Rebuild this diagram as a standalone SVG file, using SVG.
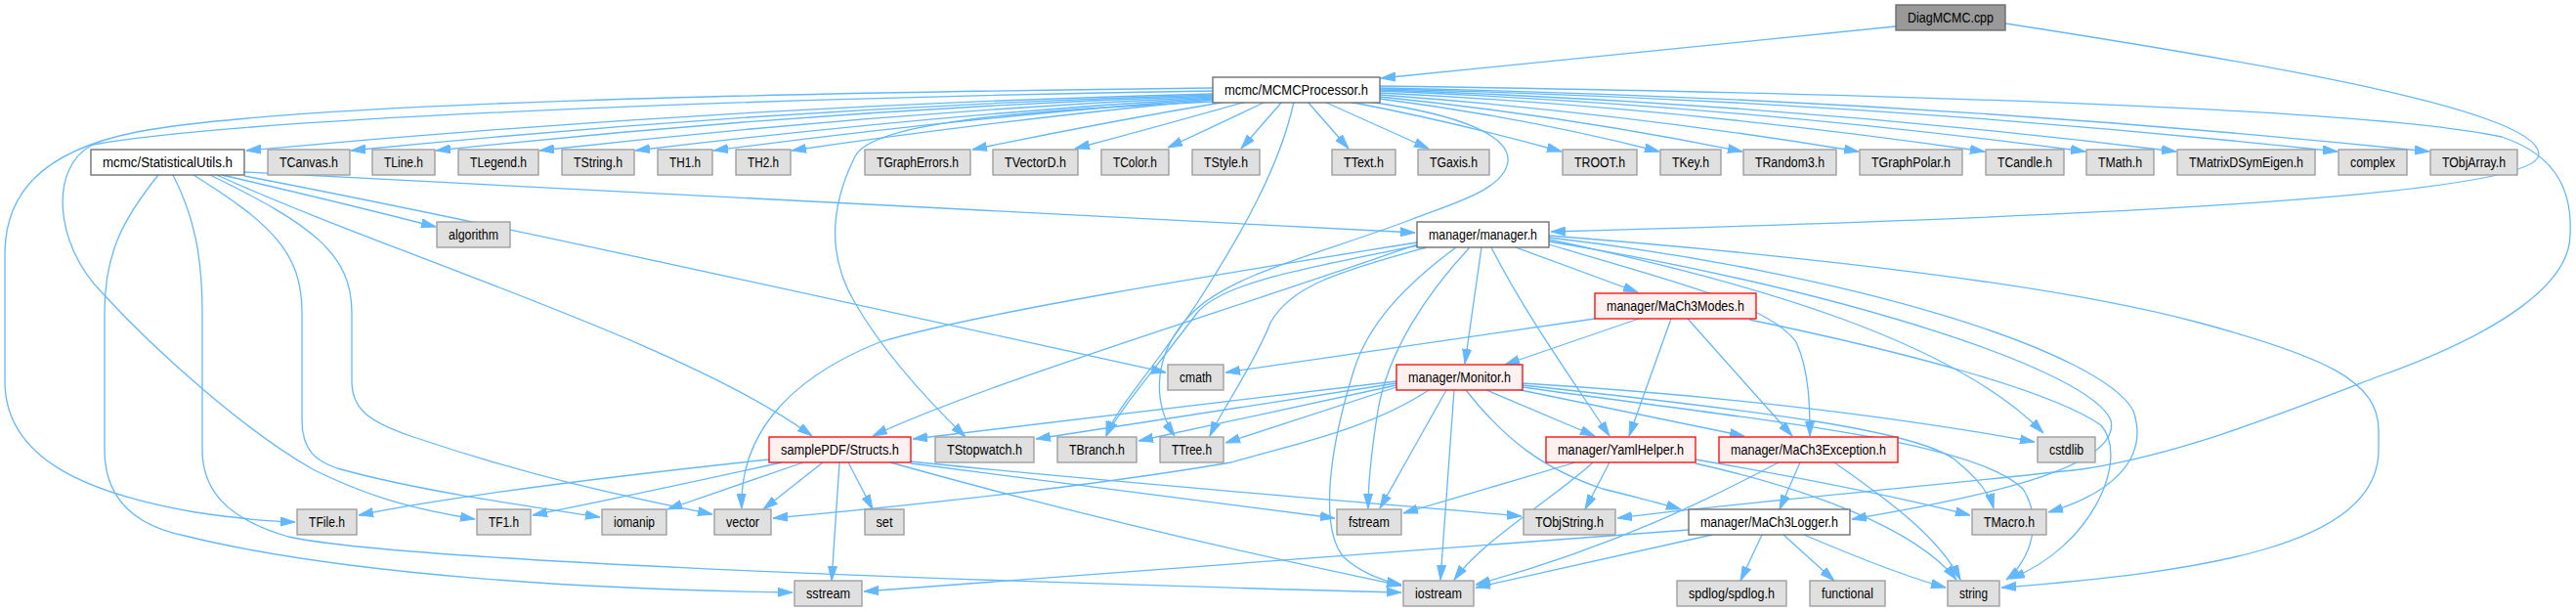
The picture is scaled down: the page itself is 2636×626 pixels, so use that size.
<svg xmlns="http://www.w3.org/2000/svg" width="2636" height="626" viewBox="0 0 2636 626">
<style>
.n rect{stroke-width:1.3}
.w rect{fill:#ffffff;stroke:#666666}
.g rect{fill:#e0e0e0;stroke:#999999}
.r rect{fill:#fff0f0;stroke:#ff0000}
.d rect{fill:#999999;stroke:#666666}
text{font-family:"Liberation Sans",Arial,Helvetica,sans-serif;font-size:14px;fill:#000000;text-anchor:middle}
#edges path{fill:none;stroke:#63b8ff;stroke-width:1.3;marker-end:url(#ah)}
</style>
<defs>
<marker id="ah" markerUnits="userSpaceOnUse" markerWidth="15" markerHeight="10" viewBox="0 0 15 10" refX="15" refY="5" orient="auto">
<path d="M0,0.5 L15,5 L0,9.5 z" fill="#63b8ff" stroke="#63b8ff" stroke-width="1"/>
</marker>
</defs>
<rect x="0" y="0" width="2636" height="626" fill="#ffffff"/>
<g id="edges">
<path d="M1940,27 L1413,80"/>
<path d="M2052,24 C2350,70 2598,115 2598,158 C2598,200 2150,222 1587,237"/>
<path d="M1241,90 C800,95 300,105 140,135 C40,155 5,200 5,260 L5,390 C5,470 90,505 200,524 C240,530 270,533 302,534"/>
<path d="M1241,93 C800,100 250,120 95,148 C50,170 55,250 105,300 C160,360 250,440 320,480 C380,510 430,522 486,531"/>
<path d="M1241,96 Q750,108 252,154"/>
<path d="M1241,97 Q800,110 359,154"/>
<path d="M1241,98 Q840,112 446,154"/>
<path d="M1241,99 Q900,115 552,154"/>
<path d="M1241,100 Q950,118 650,154"/>
<path d="M1241,101 Q990,120 730,154"/>
<path d="M1241,102 Q1030,122 810,154"/>
<path d="M1255,104 Q1130,125 995,153"/>
<path d="M1275,104 Q1190,128 1100,152"/>
<path d="M1295,104 Q1245,128 1195,151"/>
<path d="M1312,104 L1270,152"/>
<path d="M1338,104 L1380,152"/>
<path d="M1355,104 L1462,152"/>
<path d="M1380,104 Q1490,125 1598,155"/>
<path d="M1412,101 Q1560,120 1698,155"/>
<path d="M1412,99 Q1600,118 1783,155"/>
<path d="M1412,97 Q1660,115 1902,155"/>
<path d="M1412,95 Q1720,110 2031,155"/>
<path d="M1412,93 Q1780,108 2134,155"/>
<path d="M1412,92 Q1820,105 2227,155"/>
<path d="M1412,91 Q1900,102 2392,155"/>
<path d="M1412,90 Q1950,100 2486,155"/>
<path d="M1241,104 C1000,115 890,130 875,160 C850,210 845,260 875,310 C910,370 960,420 988,447"/>
<path d="M1324,104 C1310,170 1270,240 1225,310 C1175,385 1140,420 1132,446"/>
<path d="M1400,104 C1500,118 1545,140 1543,165 C1540,195 1480,210 1443,225 C1350,260 1260,280 1220,320 C1180,360 1178,410 1202,446"/>
<path d="M1412,88 C1900,95 2420,110 2560,140 C2620,160 2632,200 2630,240 C2630,290 2560,340 2434,385 C2330,425 2230,465 2130,480 C1950,500 1800,512 1655,530"/>
<path d="M162,179 C125,225 107,260 107,320 L107,460 C107,520 150,540 189,548 C350,588 600,603 811,606"/>
<path d="M177,179 C198,220 207,260 207,320 L207,460 C207,500 230,530 295,549 C400,572 900,592 1434,606"/>
<path d="M198,179 C280,230 309,260 309,320 L309,430 C309,462 325,472 345,479 C420,500 520,515 614,529"/>
<path d="M215,179 C320,230 360,260 360,320 L360,390 C360,420 380,432 420,446 C550,490 650,510 729,526"/>
<path d="M222,179 C400,260 700,350 831,446"/>
<path d="M227,179 Q340,205 446,232"/>
<path d="M250,180 C500,228 800,295 1193,381"/>
<path d="M250,176 Q850,205 1448,238"/>
<path d="M1551,253 L1676,299"/>
<path d="M1516,253 L1499,372"/>
<path d="M1526,253 C1560,320 1610,390 1647,446"/>
<path d="M1490,253 C1440,290 1400,330 1385,380 C1360,460 1350,540 1375,570 C1395,588 1420,595 1434,598"/>
<path d="M1504,253 C1460,300 1420,360 1410,420 C1402,470 1400,500 1400,520"/>
<path d="M1450,250 C1250,320 1000,395 893,446"/>
<path d="M1450,248 C1250,280 1000,320 900,350 C800,390 757,450 759,520"/>
<path d="M1452,251 C1330,275 1250,290 1225,320 C1180,380 1145,420 1132,446"/>
<path d="M1460,253 C1360,280 1320,295 1300,330 C1285,370 1250,420 1238,446"/>
<path d="M1585,245 C1800,290 2000,350 2091,443"/>
<path d="M1585,243 C1900,280 2150,360 2183,420 C2200,470 2160,505 2096,524"/>
<path d="M1585,247 C1900,300 2140,380 2160,430 C2170,475 2050,505 1895,531"/>
<path d="M1585,241 C1850,262 2100,290 2250,330 C2380,365 2434,390 2434,440 L2434,460 C2434,560 2250,585 2048,601"/>
<path d="M1585,250 C1700,285 1810,310 1838,350 C1852,380 1852,420 1852,446"/>
<path d="M1632,326 L1254,381"/>
<path d="M1677,326 L1540,373"/>
<path d="M1710,326 L1667,446"/>
<path d="M1727,326 L1834,446"/>
<path d="M1790,327 C1950,360 2100,400 2150,435 C2180,470 2140,560 2057,592"/>
<path d="M1429,392 L1060,449"/>
<path d="M1429,390 L934,449"/>
<path d="M1429,394 L1165,451"/>
<path d="M1429,396 L1254,453"/>
<path d="M1462,399 C1400,440 1320,455 1260,473 C1100,500 900,520 791,530"/>
<path d="M1480,399 L1412,520"/>
<path d="M1488,399 L1474,593"/>
<path d="M1521,399 L1632,446"/>
<path d="M1556,399 L1785,446"/>
<path d="M1500,399 C1540,450 1580,480 1640,500 C1680,510 1700,515 1720,521"/>
<path d="M1558,392 Q1850,410 2082,452"/>
<path d="M1558,394 C1800,420 1960,440 2000,470 C2025,490 2036,505 2040,520"/>
<path d="M1558,396 C1800,430 2020,450 2070,500 C2095,540 2070,580 2053,593"/>
<path d="M1612,473 L1436,525"/>
<path d="M1630,473 C1590,510 1520,550 1488,593"/>
<path d="M1647,473 L1622,521"/>
<path d="M1735,470 C1850,490 1950,510 2016,527"/>
<path d="M1735,474 C1850,500 1960,540 2002,593"/>
<path d="M1842,473 L1821,521"/>
<path d="M1820,473 C1750,510 1650,560 1510,598"/>
<path d="M1877,473 C1930,510 1985,550 2006,593"/>
<path d="M1728,542 C1500,560 1200,583 884,605"/>
<path d="M1752,547 L1510,601"/>
<path d="M1803,547 L1781,594"/>
<path d="M1825,547 L1877,594"/>
<path d="M1846,547 C1900,570 1950,590 1991,601"/>
<path d="M787,470 C600,490 450,510 367,527"/>
<path d="M800,473 C700,495 620,512 545,527"/>
<path d="M822,473 L683,521"/>
<path d="M842,473 L781,521"/>
<path d="M859,473 L851,594"/>
<path d="M868,473 L893,521"/>
<path d="M911,473 Q1150,540 1434,599"/>
<path d="M932,472 C1100,490 1350,510 1557,528"/>
<path d="M932,474 C1100,495 1250,515 1366,530"/>
</g>
<g id="n-diag" class="n d"><rect x="1940" y="5" width="112" height="26"/><text x="1996" y="23" textLength="88" lengthAdjust="spacingAndGlyphs">DiagMCMC.cpp</text></g>
<g id="n-mcmcp" class="n w"><rect x="1241" y="79" width="171" height="26"/><text x="1326.5" y="97" textLength="147" lengthAdjust="spacingAndGlyphs">mcmc/MCMCProcessor.h</text></g>
<g id="n-statutils" class="n w"><rect x="93" y="153" width="157" height="26"/><text x="171.5" y="171" textLength="133" lengthAdjust="spacingAndGlyphs">mcmc/StatisticalUtils.h</text></g>
<g id="n-tcanvas" class="n g"><rect x="274" y="153" width="84" height="26"/><text x="316" y="171" textLength="60" lengthAdjust="spacingAndGlyphs">TCanvas.h</text></g>
<g id="n-tline" class="n g"><rect x="381" y="153" width="64" height="26"/><text x="413" y="171" textLength="40" lengthAdjust="spacingAndGlyphs">TLine.h</text></g>
<g id="n-tlegend" class="n g"><rect x="469" y="153" width="82" height="26"/><text x="510" y="171" textLength="58" lengthAdjust="spacingAndGlyphs">TLegend.h</text></g>
<g id="n-tstring" class="n g"><rect x="575" y="153" width="74" height="26"/><text x="612" y="171" textLength="50" lengthAdjust="spacingAndGlyphs">TString.h</text></g>
<g id="n-th1" class="n g"><rect x="673" y="153" width="56" height="26"/><text x="701" y="171" textLength="32" lengthAdjust="spacingAndGlyphs">TH1.h</text></g>
<g id="n-th2" class="n g"><rect x="753" y="153" width="56" height="26"/><text x="781" y="171" textLength="32" lengthAdjust="spacingAndGlyphs">TH2.h</text></g>
<g id="n-tgrapherrors" class="n g"><rect x="885" y="153" width="108" height="26"/><text x="939" y="171" textLength="84" lengthAdjust="spacingAndGlyphs">TGraphErrors.h</text></g>
<g id="n-tvectord" class="n g"><rect x="1016" y="153" width="87" height="26"/><text x="1059.5" y="171" textLength="63" lengthAdjust="spacingAndGlyphs">TVectorD.h</text></g>
<g id="n-tcolor" class="n g"><rect x="1127" y="153" width="69" height="26"/><text x="1161.5" y="171" textLength="45" lengthAdjust="spacingAndGlyphs">TColor.h</text></g>
<g id="n-tstyle" class="n g"><rect x="1220" y="153" width="69" height="26"/><text x="1254.5" y="171" textLength="45" lengthAdjust="spacingAndGlyphs">TStyle.h</text></g>
<g id="n-ttext" class="n g"><rect x="1363" y="153" width="65" height="26"/><text x="1395.5" y="171" textLength="41" lengthAdjust="spacingAndGlyphs">TText.h</text></g>
<g id="n-tgaxis" class="n g"><rect x="1451" y="153" width="73" height="26"/><text x="1487.5" y="171" textLength="49" lengthAdjust="spacingAndGlyphs">TGaxis.h</text></g>
<g id="n-troot" class="n g"><rect x="1599" y="153" width="76" height="26"/><text x="1637" y="171" textLength="52" lengthAdjust="spacingAndGlyphs">TROOT.h</text></g>
<g id="n-tkey" class="n g"><rect x="1699" y="153" width="62" height="26"/><text x="1730" y="171" textLength="38" lengthAdjust="spacingAndGlyphs">TKey.h</text></g>
<g id="n-trandom3" class="n g"><rect x="1784" y="153" width="95" height="26"/><text x="1831.5" y="171" textLength="71" lengthAdjust="spacingAndGlyphs">TRandom3.h</text></g>
<g id="n-tgraphpolar" class="n g"><rect x="1903" y="153" width="105" height="26"/><text x="1955.5" y="171" textLength="81" lengthAdjust="spacingAndGlyphs">TGraphPolar.h</text></g>
<g id="n-tcandle" class="n g"><rect x="2032" y="153" width="80" height="26"/><text x="2072" y="171" textLength="56" lengthAdjust="spacingAndGlyphs">TCandle.h</text></g>
<g id="n-tmath" class="n g"><rect x="2135" y="153" width="69" height="26"/><text x="2169.5" y="171" textLength="45" lengthAdjust="spacingAndGlyphs">TMath.h</text></g>
<g id="n-tmatrix" class="n g"><rect x="2228" y="153" width="141" height="26"/><text x="2298.5" y="171" textLength="117" lengthAdjust="spacingAndGlyphs">TMatrixDSymEigen.h</text></g>
<g id="n-complex" class="n g"><rect x="2393" y="153" width="70" height="26"/><text x="2428" y="171" textLength="46" lengthAdjust="spacingAndGlyphs">complex</text></g>
<g id="n-tobjarray" class="n g"><rect x="2487" y="153" width="89" height="26"/><text x="2531.5" y="171" textLength="65" lengthAdjust="spacingAndGlyphs">TObjArray.h</text></g>
<g id="n-algorithm" class="n g"><rect x="447" y="227" width="75" height="26"/><text x="484.5" y="245" textLength="51" lengthAdjust="spacingAndGlyphs">algorithm</text></g>
<g id="n-manager" class="n w"><rect x="1450" y="227" width="135" height="26"/><text x="1517.5" y="245" textLength="111" lengthAdjust="spacingAndGlyphs">manager/manager.h</text></g>
<g id="n-modes" class="n r"><rect x="1632" y="300" width="165" height="26"/><text x="1714.5" y="318" textLength="141" lengthAdjust="spacingAndGlyphs">manager/MaCh3Modes.h</text></g>
<g id="n-cmath" class="n g"><rect x="1195" y="373" width="57" height="26"/><text x="1223.5" y="391" textLength="33" lengthAdjust="spacingAndGlyphs">cmath</text></g>
<g id="n-monitor" class="n r"><rect x="1429" y="373" width="129" height="26"/><text x="1493.5" y="391" textLength="105" lengthAdjust="spacingAndGlyphs">manager/Monitor.h</text></g>
<g id="n-structs" class="n r"><rect x="787" y="447" width="145" height="26"/><text x="859.5" y="465" textLength="121" lengthAdjust="spacingAndGlyphs">samplePDF/Structs.h</text></g>
<g id="n-tstopwatch" class="n g"><rect x="957" y="447" width="101" height="26"/><text x="1007.5" y="465" textLength="77" lengthAdjust="spacingAndGlyphs">TStopwatch.h</text></g>
<g id="n-tbranch" class="n g"><rect x="1082" y="447" width="81" height="26"/><text x="1122.5" y="465" textLength="57" lengthAdjust="spacingAndGlyphs">TBranch.h</text></g>
<g id="n-ttree" class="n g"><rect x="1187" y="447" width="65" height="26"/><text x="1219.5" y="465" textLength="41" lengthAdjust="spacingAndGlyphs">TTree.h</text></g>
<g id="n-yaml" class="n r"><rect x="1582" y="447" width="153" height="26"/><text x="1658.5" y="465" textLength="129" lengthAdjust="spacingAndGlyphs">manager/YamlHelper.h</text></g>
<g id="n-exception" class="n r"><rect x="1759" y="447" width="183" height="26"/><text x="1850.5" y="465" textLength="159" lengthAdjust="spacingAndGlyphs">manager/MaCh3Exception.h</text></g>
<g id="n-cstdlib" class="n g"><rect x="2085" y="447" width="59" height="26"/><text x="2114.5" y="465" textLength="35" lengthAdjust="spacingAndGlyphs">cstdlib</text></g>
<g id="n-tfile" class="n g"><rect x="304" y="521" width="61" height="26"/><text x="334.5" y="539" textLength="37" lengthAdjust="spacingAndGlyphs">TFile.h</text></g>
<g id="n-tf1" class="n g"><rect x="488" y="521" width="55" height="26"/><text x="515.5" y="539" textLength="31" lengthAdjust="spacingAndGlyphs">TF1.h</text></g>
<g id="n-iomanip" class="n g"><rect x="616" y="521" width="66" height="26"/><text x="649" y="539" textLength="42" lengthAdjust="spacingAndGlyphs">iomanip</text></g>
<g id="n-vector" class="n g"><rect x="731" y="521" width="58" height="26"/><text x="760" y="539" textLength="34" lengthAdjust="spacingAndGlyphs">vector</text></g>
<g id="n-set" class="n g"><rect x="885" y="521" width="40" height="26"/><text x="905" y="539" textLength="17" lengthAdjust="spacingAndGlyphs">set</text></g>
<g id="n-fstream" class="n g"><rect x="1368" y="521" width="66" height="26"/><text x="1401" y="539" textLength="42" lengthAdjust="spacingAndGlyphs">fstream</text></g>
<g id="n-tobjstring" class="n g"><rect x="1559" y="521" width="94" height="26"/><text x="1606" y="539" textLength="70" lengthAdjust="spacingAndGlyphs">TObjString.h</text></g>
<g id="n-logger" class="n w"><rect x="1728" y="521" width="165" height="26"/><text x="1810.5" y="539" textLength="141" lengthAdjust="spacingAndGlyphs">manager/MaCh3Logger.h</text></g>
<g id="n-tmacro" class="n g"><rect x="2018" y="521" width="76" height="26"/><text x="2056" y="539" textLength="52" lengthAdjust="spacingAndGlyphs">TMacro.h</text></g>
<g id="n-sstream" class="n g"><rect x="813" y="594" width="69" height="26"/><text x="847.5" y="612" textLength="45" lengthAdjust="spacingAndGlyphs">sstream</text></g>
<g id="n-iostream" class="n g"><rect x="1436" y="594" width="72" height="26"/><text x="1472" y="612" textLength="48" lengthAdjust="spacingAndGlyphs">iostream</text></g>
<g id="n-spdlog" class="n g"><rect x="1716" y="594" width="112" height="26"/><text x="1772" y="612" textLength="88" lengthAdjust="spacingAndGlyphs">spdlog/spdlog.h</text></g>
<g id="n-functional" class="n g"><rect x="1852" y="594" width="77" height="26"/><text x="1890.5" y="612" textLength="53" lengthAdjust="spacingAndGlyphs">functional</text></g>
<g id="n-string" class="n g"><rect x="1993" y="594" width="53" height="26"/><text x="2019.5" y="612" textLength="29" lengthAdjust="spacingAndGlyphs">string</text></g>
</svg>
